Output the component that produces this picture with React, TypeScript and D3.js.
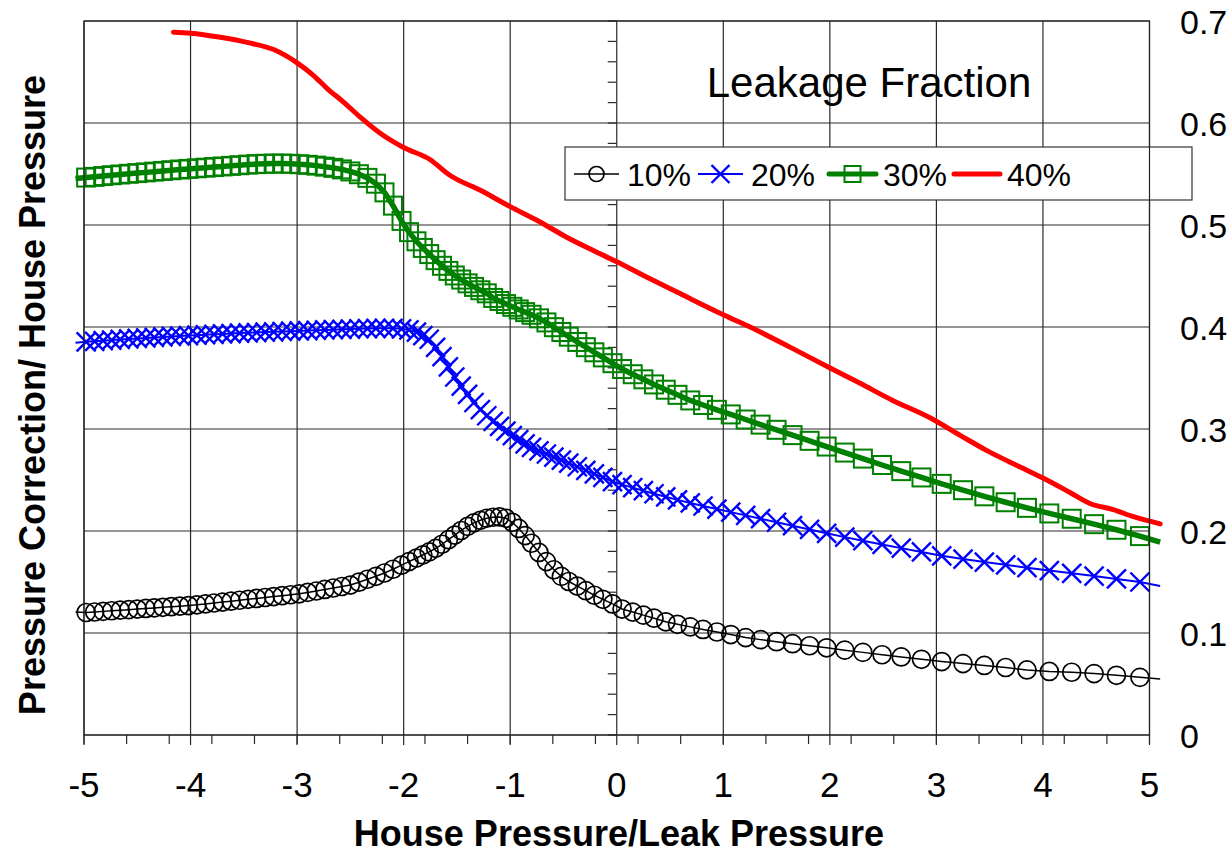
import React from 'react';
import * as d3 from 'd3';

// Pressure ratio (house / leak) at which the 10%, 20% and 30% curves were sampled
const ratio = [
  -5.08, -4.98, -4.9, -4.82, -4.74, -4.66, -4.58, -4.5, -4.42, -4.34, -4.26, -4.18, -4.1, -4.02,
  -3.94, -3.86, -3.78, -3.7, -3.62, -3.54, -3.46, -3.38, -3.3, -3.22, -3.14, -3.06, -2.98, -2.9,
  -2.82, -2.74, -2.66, -2.58, -2.5, -2.42, -2.34, -2.26, -2.18, -2.1, -2.02, -1.95, -1.88, -1.82,
  -1.76, -1.7, -1.64, -1.58, -1.52, -1.46, -1.4, -1.34, -1.28, -1.22, -1.16, -1.1, -1.04, -0.98,
  -0.92, -0.86, -0.8, -0.73, -0.66, -0.59, -0.52, -0.45, -0.37, -0.29, -0.21, -0.13, -0.04, 0.05,
  0.15, 0.25, 0.35, 0.46, 0.57, 0.69, 0.81, 0.94, 1.07, 1.21, 1.35, 1.5, 1.65, 1.81, 1.97, 2.14,
  2.31, 2.49, 2.67, 2.86, 3.05, 3.25, 3.45, 3.65, 3.85, 4.06, 4.27, 4.48, 4.69, 4.91, 5.1,
];

const leak10 = [
  0.1205, 0.1201, 0.1206, 0.1212, 0.1218, 0.1224, 0.1229, 0.1235, 0.1241, 0.1246, 0.1252, 0.1258, 0.1263, 0.1269,
  0.1276, 0.1285, 0.1294, 0.1303, 0.1312, 0.1321, 0.133, 0.1339, 0.1348, 0.1357, 0.1366, 0.1375, 0.1384, 0.1398,
  0.1412, 0.1427, 0.1441, 0.1456, 0.147, 0.1498, 0.1527, 0.1556, 0.1588, 0.1625, 0.1665, 0.17, 0.1735, 0.1765,
  0.1795, 0.183, 0.187, 0.1915, 0.196, 0.2005, 0.2045, 0.208, 0.2105, 0.2125, 0.2135, 0.2138, 0.2125, 0.2085,
  0.2025, 0.1955, 0.188, 0.179, 0.17, 0.162, 0.1555, 0.1505, 0.146, 0.1415, 0.137, 0.133, 0.1285, 0.1235,
  0.1205, 0.1175, 0.1145, 0.111, 0.1085, 0.106, 0.1035, 0.101, 0.0985, 0.0955, 0.0935, 0.0915, 0.0895, 0.0875, 0.0855, 0.0832,
  0.081, 0.0787, 0.0765, 0.0742, 0.072, 0.07, 0.0682, 0.0662, 0.0638, 0.0623, 0.0615, 0.0602, 0.0585, 0.0565, 0.055,
];

const leak20 = [
  0.3845, 0.3855, 0.386, 0.3866, 0.3872, 0.3878, 0.3883, 0.3888, 0.3893, 0.3898, 0.3903, 0.3908, 0.3912, 0.3916,
  0.392, 0.3924, 0.3928, 0.3932, 0.3936, 0.394, 0.3943, 0.3946, 0.395, 0.3953, 0.3956, 0.3959, 0.3962, 0.3965,
  0.3968, 0.3971, 0.3974, 0.3977, 0.398, 0.3983, 0.3985, 0.3987, 0.3988, 0.3987, 0.3982, 0.3972, 0.395, 0.3915,
  0.388, 0.38, 0.371, 0.361, 0.351, 0.342, 0.334, 0.326, 0.319, 0.313, 0.3075, 0.3025, 0.298, 0.2935,
  0.2895, 0.2855, 0.282, 0.2785, 0.2755, 0.2725, 0.2695, 0.2665, 0.263, 0.2595, 0.256, 0.2525, 0.2485, 0.2455,
  0.2425, 0.2395, 0.2365, 0.2335, 0.2305, 0.2275, 0.2245, 0.2215, 0.2185, 0.2153, 0.2121, 0.2086, 0.2052, 0.2015, 0.1977, 0.194,
  0.1905, 0.1868, 0.1832, 0.1795, 0.1757, 0.1725, 0.1695, 0.1668, 0.164, 0.1612, 0.1585, 0.1558, 0.153, 0.15, 0.146,
];

const leak30 = [
  0.5455, 0.5465, 0.5472, 0.548, 0.5488, 0.5495, 0.5502, 0.5509, 0.5516, 0.5523, 0.553, 0.5537, 0.5544, 0.555,
  0.5556, 0.5562, 0.5568, 0.5574, 0.558, 0.5586, 0.5592, 0.5597, 0.56, 0.5602, 0.5602, 0.56, 0.5596, 0.559,
  0.5582, 0.5572, 0.556, 0.5545, 0.5525, 0.5498, 0.5462, 0.5405, 0.532, 0.519, 0.504, 0.493, 0.484, 0.4775,
  0.4715, 0.4655, 0.46, 0.455, 0.4505, 0.4465, 0.4428, 0.4393, 0.436, 0.433, 0.4285, 0.4255, 0.4225, 0.4198,
  0.4172, 0.4146, 0.412, 0.4085, 0.4045, 0.3998, 0.3951, 0.3905, 0.3853, 0.3802, 0.3752, 0.3702, 0.3645, 0.3588,
  0.3537, 0.3487, 0.3437, 0.3385, 0.3335, 0.328, 0.3235, 0.3188, 0.3143, 0.3093, 0.3043, 0.2992, 0.294, 0.2884, 0.2828, 0.2769,
  0.271, 0.2647, 0.2587, 0.2525, 0.2462, 0.24, 0.234, 0.2282, 0.2227, 0.2172, 0.212, 0.2067, 0.2012, 0.195, 0.189,
];

// The 40% curve is a plain line with its own sampling
const ratio40 = [
  -4.16, -4.0, -3.72, -3.47, -3.22, -3.0, -2.85, -2.72, -2.57, -2.41, -2.22, -2.0, -1.75, -1.57, -1.28, -1.0,
  -0.72, -0.47, -0.22, 0, 0.28, 0.59, 1.0, 1.31, 1.63, 1.98, 2.28, 2.59, 2.94, 3.22, 3.47, 3.78, 4.0, 4.25,
  4.44, 4.66, 4.85, 5.1,
];
const leak40 = [
  0.689, 0.688, 0.684, 0.679, 0.672, 0.659, 0.647, 0.634, 0.621, 0.606, 0.59, 0.576, 0.564, 0.549, 0.534, 0.518,
  0.503, 0.488, 0.475, 0.464, 0.449, 0.433, 0.412, 0.397, 0.38, 0.361, 0.345, 0.328, 0.311, 0.294, 0.279, 0.263,
  0.252, 0.238, 0.227, 0.221, 0.214, 0.207,
];

const xTicks = [-5, -4, -3, -2, -1, 0, 1, 2, 3, 4, 5];
const xTickLabels = ['-5', '-4', '-3', '-2', '-1', '0', '1', '2', '3', '4', '5'];
const yTicks = [0, 0.1, 0.2, 0.3, 0.4, 0.5, 0.6, 0.7];
const yTickLabels = ['0', '0.1', '0.2', '0.3', '0.4', '0.5', '0.6', '0.7'];
const seriesNames = ['10%', '20%', '30%', '40%'];

const FONT = '"Liberation Sans", Arial, sans-serif';
const W = 1232;
const H = 854;
const plot = { left: 84, right: 1149.5, top: 21, bottom: 735 };

const x = d3.scaleLinear().domain([-5, 5]).range([plot.left, plot.right]);
const y = d3.scaleLinear().domain([0, 0.7]).range([plot.bottom, plot.top]);

const minorX = d3.range(-5, 5.0001, 0.4);
const minorY = d3.range(0, 0.7001, 0.02);

type Pt = [number, number];
const pts = (xs: number[], ys: number[]): Pt[] => xs.map((v, i) => [v, ys[i]]);
const line = d3.line<Pt>().x((d) => x(d[0])).y((d) => y(d[1]));
const smoothLine = d3.line<Pt>().x((d) => x(d[0])).y((d) => y(d[1])).curve(d3.curveMonotoneX);
const inRange = (p: Pt) => p[0] >= -5 && p[0] <= 5;

const s10 = pts(ratio, leak10);
const s20 = pts(ratio, leak20);
const s30 = pts(ratio, leak30);
const s40 = pts(ratio40, leak40);

const Circle = ({ cx, cy, r }: { cx: number; cy: number; r: number }) => (
  <circle cx={cx} cy={cy} r={r} fill="none" stroke="#000" strokeWidth={1.7} />
);
const Cross = ({ cx, cy, s }: { cx: number; cy: number; s: number }) => (
  <path d={`M${cx - s},${cy - s}L${cx + s},${cy + s}M${cx - s},${cy + s}L${cx + s},${cy - s}`} stroke="#0000ff" strokeWidth={2.4} fill="none" />
);
const Square = ({ cx, cy, s }: { cx: number; cy: number; s: number }) => (
  <rect x={cx - s} y={cy - s} width={2 * s} height={2 * s} fill="none" stroke="#008000" strokeWidth={2} />
);

export default function App() {
  const legendY = 174;
  const legendItems = [
    { x0: 574, label: '10%' },
    { x0: 698, label: '20%' },
    { x0: 829, label: '30%' },
    { x0: 954, label: '40%' },
  ];
  return (
    <svg width={W} height={H} style={{ position: 'absolute', left: 0, top: 0, background: '#fff' }} fontFamily={FONT}>
      <rect width={W} height={H} fill="#fff" />
      {/* grid */}
      <g stroke="#2a2a2a" strokeWidth={1.2}>
        {yTicks.filter((v) => v > 0).map((v) => (
          <line key={`gy${v}`} x1={plot.left} x2={plot.right} y1={y(v)} y2={y(v)} />
        ))}
        {xTicks.map((v) => (
          <line key={`gx${v}`} x1={x(v)} x2={x(v)} y1={plot.top} y2={plot.bottom + 10} />
        ))}
        <line x1={plot.left} x2={plot.right} y1={plot.bottom} y2={plot.bottom} />
        {minorX.map((v, i) => (
          <line key={`mx${i}`} x1={x(v)} x2={x(v)} y1={plot.bottom} y2={plot.bottom + 9} />
        ))}
        {minorY.map((v, i) => (
          <line key={`my${i}`} x1={x(0) - 9} x2={x(0)} y1={y(v)} y2={y(v)} />
        ))}
      </g>

      {/* 10% */}
      <path d={line(s10) || ''} fill="none" stroke="#000" strokeWidth={1.5} />
      {s10.filter(inRange).map((p, i) => (
        <Circle key={`c${i}`} cx={x(p[0])} cy={y(p[1])} r={9} />
      ))}
      {/* 20% */}
      <path d={line(s20) || ''} fill="none" stroke="#0000ff" strokeWidth={2} />
      {s20.filter(inRange).map((p, i) => (
        <Cross key={`x${i}`} cx={x(p[0])} cy={y(p[1])} s={9.5} />
      ))}
      {/* 30% */}
      {s30.filter(inRange).map((p, i) => (
        <Square key={`s${i}`} cx={x(p[0])} cy={y(p[1])} s={9} />
      ))}
      <path d={line(s30) || ''} fill="none" stroke="#008000" strokeWidth={5.5} strokeLinejoin="round" />
      {/* 40% */}
      <path d={smoothLine(s40) || ''} fill="none" stroke="#ff0000" strokeWidth={5} strokeLinejoin="round" strokeLinecap="round" />

      {/* x tick labels */}
      {xTicks.map((v, i) => (
        <text key={`xl${v}`} x={x(v)} y={797} fontSize={35} textAnchor="middle" fill="#000">
          {xTickLabels[i]}
        </text>
      ))}
      {/* y tick labels on the right */}
      {yTicks.map((v, i) => (
        <text key={`yl${v}`} x={1180} y={y(v) + 12.5} fontSize={34} fill="#000">
          {yTickLabels[i]}
        </text>
      ))}

      {/* axis titles */}
      <text x={619} y={846} fontSize={36} fontWeight="bold" textAnchor="middle" fill="#000">
        House Pressure/Leak Pressure
      </text>
      <text transform="translate(45,395) rotate(-90)" fontSize={36} fontWeight="bold" textAnchor="middle" fill="#000">
        Pressure Correction/ House Pressure
      </text>

      <text x={869} y={97} fontSize={42} textAnchor="middle" fill="#000">
        Leakage Fraction
      </text>

      {/* legend */}
      <rect x={565} y={147} width={627} height={53} fill="#fff" stroke="#333" strokeWidth={1.2} />
      {legendItems.map((it, i) => {
        const cx = it.x0 + 22.5;
        return (
          <g key={it.label}>
            {i === 0 && (
              <>
                <line x1={it.x0} x2={it.x0 + 45} y1={legendY} y2={legendY} stroke="#000" strokeWidth={1.5} />
                <Circle cx={cx} cy={legendY} r={7.5} />
              </>
            )}
            {i === 1 && (
              <>
                <line x1={it.x0} x2={it.x0 + 45} y1={legendY} y2={legendY} stroke="#0000ff" strokeWidth={2} />
                <Cross cx={cx} cy={legendY} s={9} />
              </>
            )}
            {i === 2 && (
              <>
                <line x1={it.x0} x2={it.x0 + 47} y1={legendY} y2={legendY} stroke="#008000" strokeWidth={5} strokeLinecap="round" />
                <Square cx={cx + 1} cy={legendY} s={8} />
              </>
            )}
            {i === 3 && (
              <line x1={it.x0} x2={it.x0 + 46} y1={legendY} y2={legendY} stroke="#ff0000" strokeWidth={5} strokeLinecap="round" />
            )}
            <text x={it.x0 + (i === 2 ? 54 : 53)} y={legendY + 11.5} fontSize={32} fill="#000">
              {seriesNames[i]}
            </text>
          </g>
        );
      })}

      {/* plot frame */}
      <rect x={plot.left} y={plot.top} width={plot.right - plot.left} height={plot.bottom - plot.top} fill="none" stroke="#222" strokeWidth={1.2} />
    </svg>
  );
}
